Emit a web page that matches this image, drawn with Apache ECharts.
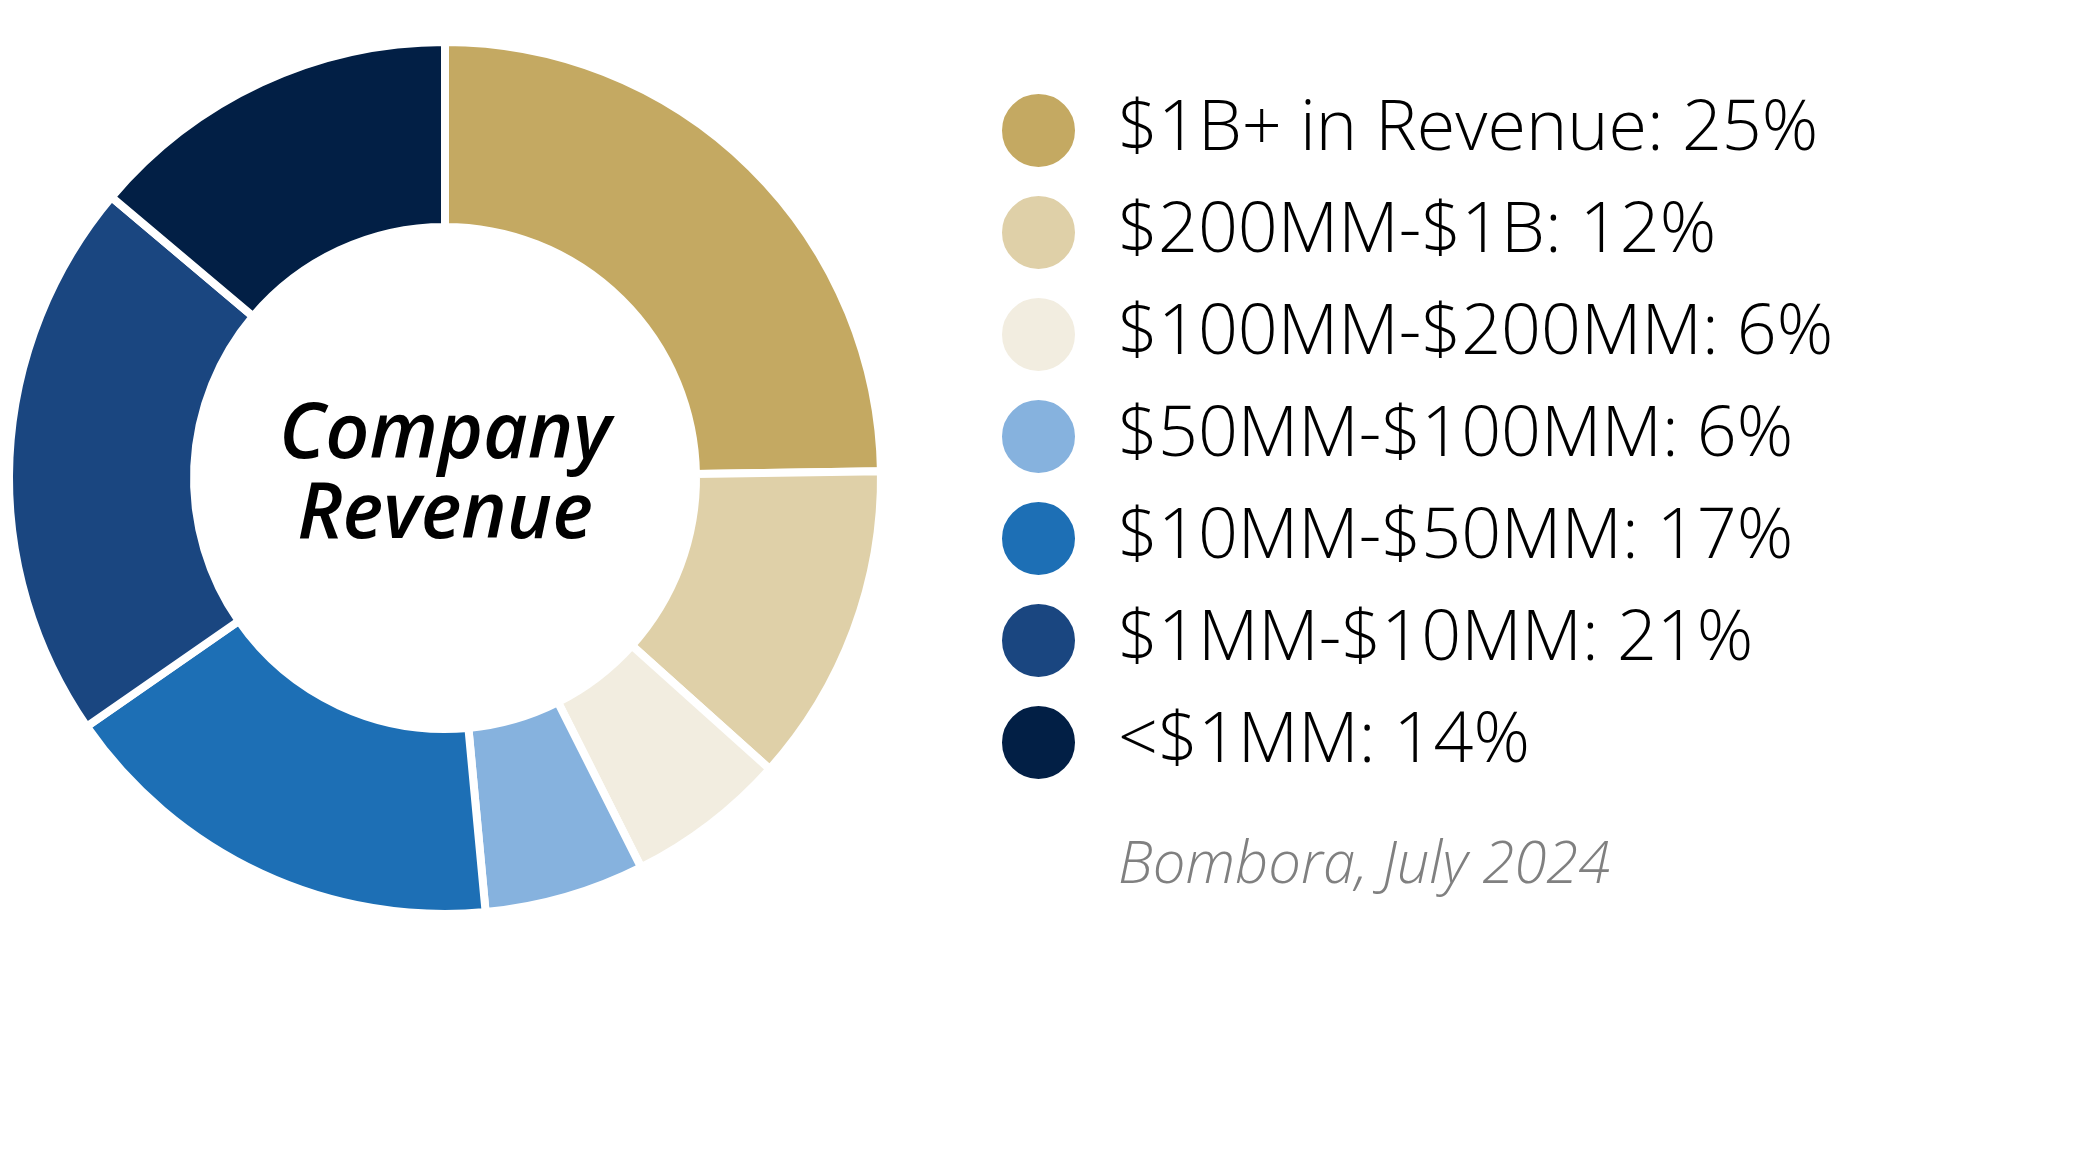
<!DOCTYPE html>
<html>
<head>
<meta charset="utf-8">
<script src="https://cdn.jsdelivr.net/npm/echarts@6/dist/echarts.min.js"></script>
<style>
html,body{margin:0;padding:0;background:#ffffff;}
#chart{width:2089px;height:1170px;}
</style>
</head>
<body>
<div id="chart"></div>
<script>
// ---- data ----
const categories = ['$1B+ in Revenue', '$200MM-$1B', '$100MM-$200MM', '$50MM-$100MM', '$10MM-$50MM', '$1MM-$10MM', '<$1MM'];
const shares = [25, 12, 6, 6, 17, 21, 14];
const centerTitle = ['Company', 'Revenue'];
const sourceNote = 'Bombora, July 2024';

// ---- styles ----
const palette = ['#C4A962', '#DFD0A8', '#F2EDE0', '#86B2DE', '#1D6FB5', '#1A4680', '#021F45'];

const chart = echarts.init(document.getElementById('chart'), null, { renderer: 'canvas' });
chart.setOption({
  animation: false,
  backgroundColor: '#ffffff',
  color: palette,
  legend: {
    orient: 'vertical',
    left: 995,
    top: 87,
    icon: 'circle',
    itemWidth: 75,
    itemHeight: 75,
    itemGap: 25,
    selectedMode: false,
    formatter: function (name) {
      return name + ': ' + shares[categories.indexOf(name)] + '%';
    },
    textStyle: {
      fontFamily: 'Open Sans',
      fontWeight: 300,
      fontSize: 70,
      color: '#000000',
      lineHeight: 75,
      padding: [0, 0, 0, 37]
    }
  },
  graphic: [
    {
      type: 'text',
      x: 445,
      y: 476,
      silent: true,
      style: {
        text: centerTitle.join('\n'),
        align: 'center',
        verticalAlign: 'middle',
        fontFamily: 'Open Sans',
        fontSize: 77,
        fontWeight: 600,
        fontStyle: 'italic',
        lineHeight: 80,
        fill: '#000000'
      }
    },
    {
      type: 'text',
      x: 1118,
      y: 866,
      silent: true,
      style: {
        text: sourceNote,
        align: 'left',
        verticalAlign: 'middle',
        fontFamily: 'Open Sans',
        fontSize: 58,
        fontWeight: 300,
        fontStyle: 'italic',
        fill: '#808080'
      }
    }
  ],
  series: [
    {
      type: 'pie',
      center: [445, 478],
      radius: [251, 436],
      startAngle: 90,
      clockwise: true,
      avoidLabelOverlap: false,
      label: { show: false },
      labelLine: { show: false },
      emphasis: { disabled: true },
      itemStyle: { borderColor: '#ffffff', borderWidth: 8 },
      data: categories.map(function (n, i) { return { name: n, value: shares[i] }; })
    }
  ]
});
</script>
</body>
</html>
